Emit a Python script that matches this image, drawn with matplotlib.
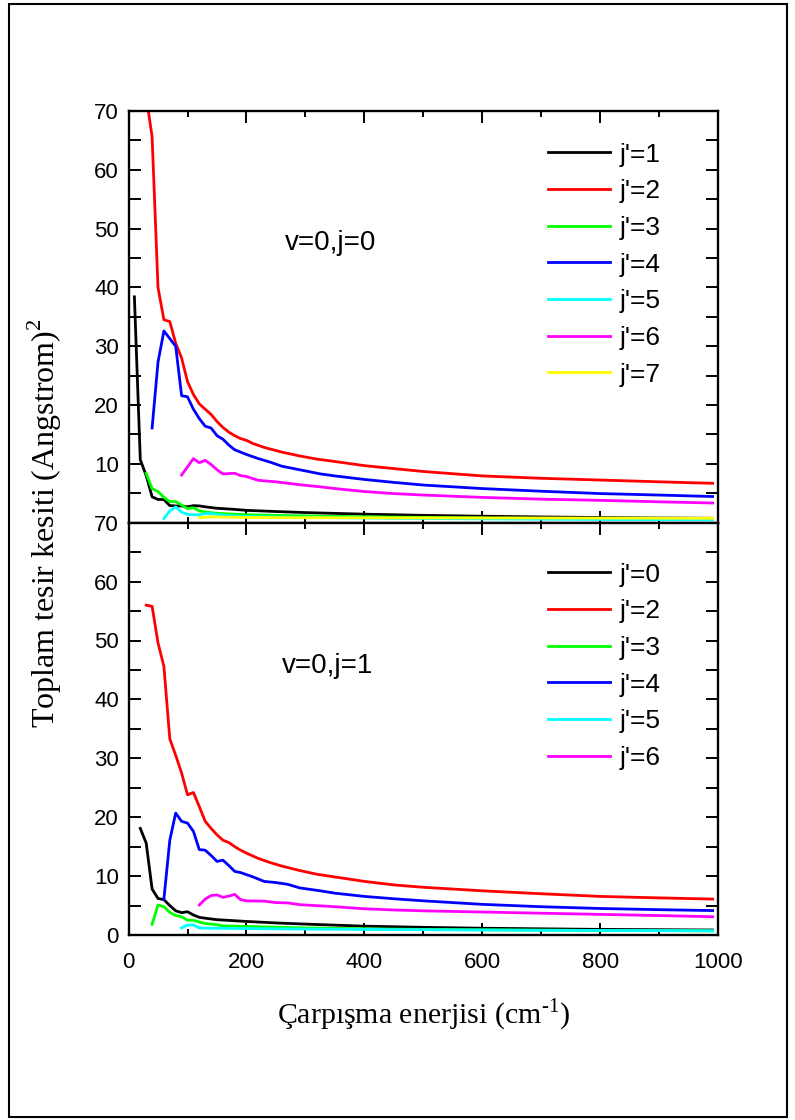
import matplotlib
matplotlib.use("Agg")
import matplotlib.pyplot as plt
from matplotlib.patches import Rectangle
from matplotlib.ticker import MultipleLocator

# v=0, j=0 panel
x_a1 = [10, 20, 30, 40, 50, 60, 70, 80, 90, 100, 110, 120, 130, 150, 175, 200, 250, 300, 400, 500, 600, 700, 800, 900, 990]
y_a1 = [38.4, 10.7, 8.0, 4.4, 3.95, 3.95, 2.9, 2.85, 2.85, 2.7, 2.9, 2.85, 2.7, 2.45, 2.3, 2.1, 1.9, 1.72, 1.45, 1.25, 1.1, 0.98, 0.88, 0.8, 0.75]

x_a2 = [30, 40, 50, 60, 70, 80, 90, 100, 110, 120, 130, 140, 150, 160, 170, 180, 190, 200, 210, 230, 260, 290, 320, 350, 400, 450, 500, 600, 700, 800, 900, 990]
y_a2 = [72.5, 65.6, 40.0, 34.5, 34.2, 30.5, 28.0, 24.0, 21.8, 20.2, 19.3, 18.4, 17.2, 16.2, 15.4, 14.8, 14.3, 14.0, 13.5, 12.8, 12.0, 11.35, 10.8, 10.4, 9.7, 9.2, 8.7, 7.95, 7.55, 7.25, 6.95, 6.7]

x_a3 = [30, 40, 50, 60, 70, 80, 90, 100, 110, 120, 130, 140, 150, 200, 300, 400, 500, 600, 700, 800, 900, 990]
y_a3 = [8.4, 5.8, 5.3, 4.3, 3.6, 3.6, 3.0, 2.4, 2.55, 2.0, 1.85, 1.7, 1.6, 1.35, 1.15, 1.0, 0.9, 0.8, 0.72, 0.65, 0.6, 0.55]

x_a4 = [40, 50, 60, 70, 80, 90, 100, 110, 120, 130, 140, 150, 160, 170, 180, 190, 200, 220, 240, 260, 280, 300, 325, 350, 400, 450, 500, 600, 700, 800, 900, 990]
y_a4 = [16.1, 27.3, 32.6, 31.3, 30.0, 21.6, 21.4, 19.3, 17.7, 16.4, 16.1, 14.8, 14.2, 13.2, 12.4, 12.0, 11.6, 10.9, 10.3, 9.6, 9.2, 8.8, 8.3, 7.95, 7.35, 6.85, 6.4, 5.8, 5.35, 4.95, 4.7, 4.45]

x_a5 = [60, 70, 80, 90, 100, 110, 120, 130, 140, 160, 200, 300, 400, 500, 600, 800, 990]
y_a5 = [0.7, 2.0, 2.7, 1.8, 1.4, 1.35, 1.35, 1.55, 1.55, 1.25, 1.05, 0.9, 0.8, 0.72, 0.65, 0.55, 0.5]

x_a6 = [90, 100, 110, 120, 130, 140, 150, 160, 170, 180, 190, 200, 220, 250, 270, 300, 325, 350, 400, 450, 500, 600, 700, 800, 900, 990]
y_a6 = [8.1, 9.5, 10.9, 10.2, 10.6, 9.9, 9.0, 8.3, 8.35, 8.4, 8.0, 7.85, 7.2, 6.95, 6.7, 6.35, 6.1, 5.8, 5.3, 4.95, 4.7, 4.3, 4.0, 3.8, 3.55, 3.35]

x_a7 = [120, 140, 160, 200, 300, 500, 700, 990]
y_a7 = [0.85, 1.0, 0.95, 0.9, 0.85, 0.82, 0.8, 0.75]

# v=0, j=1 panel
x_b0 = [20, 30, 40, 50, 60, 70, 80, 90, 100, 110, 120, 130, 150, 200, 250, 300, 400, 500, 600, 700, 800, 900, 990]
y_b0 = [18.1, 15.6, 7.8, 6.2, 6.0, 5.0, 4.1, 3.8, 3.95, 3.4, 3.0, 2.85, 2.6, 2.3, 2.05, 1.85, 1.5, 1.3, 1.15, 1.05, 0.95, 0.9, 0.85]

x_b2 = [30, 40, 50, 60, 70, 80, 90, 100, 110, 120, 130, 140, 150, 160, 170, 180, 190, 200, 220, 240, 260, 290, 320, 350, 400, 450, 500, 600, 700, 800, 900, 990]
y_b2 = [56.0, 55.8, 49.6, 45.6, 33.3, 30.5, 27.5, 23.8, 24.2, 21.8, 19.3, 18.1, 17.0, 16.1, 15.7, 15.0, 14.4, 13.9, 13.0, 12.3, 11.7, 10.95, 10.3, 9.85, 9.1, 8.5, 8.1, 7.5, 7.0, 6.55, 6.3, 6.1]

x_b3 = [40, 50, 60, 70, 80, 90, 100, 110, 120, 130, 150, 160, 200, 300, 400, 500, 600, 800, 990]
y_b3 = [1.8, 5.1, 4.8, 3.85, 3.3, 3.1, 2.5, 2.5, 2.2, 1.95, 1.75, 1.55, 1.45, 1.2, 1.05, 0.95, 0.88, 0.78, 0.7]

x_b4 = [60, 70, 80, 90, 100, 110, 120, 130, 140, 150, 160, 170, 180, 190, 210, 230, 250, 270, 290, 325, 350, 400, 450, 500, 600, 700, 800, 900, 990]
y_b4 = [6.1, 16.1, 20.7, 19.3, 19.0, 17.6, 14.5, 14.4, 13.5, 12.5, 12.7, 11.8, 10.8, 10.6, 9.9, 9.1, 8.9, 8.6, 8.0, 7.5, 7.1, 6.55, 6.15, 5.8, 5.2, 4.8, 4.5, 4.3, 4.15]

x_b5 = [90, 100, 110, 120, 140, 200, 300, 500, 700, 990]
y_b5 = [1.2, 1.7, 1.7, 1.2, 1.15, 1.1, 1.0, 0.9, 0.8, 0.72]

x_b6 = [120, 130, 140, 150, 160, 170, 180, 190, 200, 230, 250, 270, 290, 325, 350, 400, 450, 500, 600, 700, 800, 900, 990]
y_b6 = [5.1, 6.1, 6.7, 6.8, 6.4, 6.6, 6.9, 6.0, 5.8, 5.75, 5.5, 5.45, 5.15, 4.95, 4.8, 4.45, 4.25, 4.1, 3.9, 3.7, 3.5, 3.3, 3.1]

top_series = [(x_a1, y_a1, "black", "j'=1"), (x_a2, y_a2, "red", "j'=2"),
              (x_a3, y_a3, "#00ff00", "j'=3"), (x_a4, y_a4, "blue", "j'=4"),
              (x_a5, y_a5, "cyan", "j'=5"), (x_a6, y_a6, "magenta", "j'=6"),
              (x_a7, y_a7, "yellow", "j'=7")]
bot_series = [(x_b0, y_b0, "black", "j'=0"), (x_b2, y_b2, "red", "j'=2"),
              (x_b3, y_b3, "#00ff00", "j'=3"), (x_b4, y_b4, "blue", "j'=4"),
              (x_b5, y_b5, "cyan", "j'=5"), (x_b6, y_b6, "magenta", "j'=6")]

sans = "Liberation Sans"
serif = "Liberation Serif"

fig = plt.figure(figsize=(7.95, 11.2), dpi=100)
W, H = 795, 1120
ax_top = fig.add_axes([128.5 / W, (H - 522.7) / H, 590 / W, 411.7 / H])
ax_bot = fig.add_axes([128.5 / W, (H - 935) / H, 590 / W, 412.3 / H])


def style(ax):
    ax.set_xlim(0, 1000)
    ax.set_ylim(0, 70)
    ax.xaxis.set_major_locator(MultipleLocator(200))
    ax.xaxis.set_minor_locator(MultipleLocator(100))
    ax.yaxis.set_major_locator(MultipleLocator(10))
    ax.yaxis.set_minor_locator(MultipleLocator(5))
    ax.tick_params(which="both", direction="in", top=True, right=True, width=1.4)
    ax.tick_params(which="major", length=8.5)
    ax.tick_params(which="minor", length=4.5)
    ax.tick_params(axis="y", which="both", length=8.5)
    ax.tick_params(axis="y", pad=7)
    ax.tick_params(axis="x", pad=12)
    for s in ax.spines.values():
        s.set_linewidth(1.7)
    for lab in ax.get_xticklabels() + ax.get_yticklabels():
        lab.set_fontfamily(sans)
        lab.set_fontsize(16)


for ax, series in [(ax_top, top_series), (ax_bot, bot_series)]:
    for xs, ys, c, lab in series:
        ax.plot(xs, ys, color=c, lw=2.0, label=lab)
    style(ax)
    ax.legend(loc="upper left", bbox_to_anchor=(0.711, 0.923 if ax is ax_top else 0.903),
              frameon=False, borderpad=0, borderaxespad=0, handlelength=2.35,
              handletextpad=0.38, labelspacing=0.48,
              prop={"family": sans, "size": 19})

ax_top.tick_params(axis="x", labelbottom=False)
ax_top.set_yticks(range(0, 71, 10))
ax_top.set_yticklabels([""] + [str(v) for v in range(10, 71, 10)], fontfamily=sans, fontsize=16)

ax_top.text(343, 47.5, "v=0,j=0", fontfamily=sans, fontsize=20, ha="center", va="center")
ax_bot.text(338, 45.7, "v=0,j=1", fontfamily=sans, fontsize=20, ha="center", va="center")

fig.text(423.5 / W, 1 - 1015 / H, "Çarpışma enerjisi (cm$^{\\mathregular{\u20101}}$)",
         fontfamily=serif, fontsize=21.5, ha="center", va="center")
fig.text(45 / W, 1 - 523 / H, "Toplam tesir kesiti (Angstrom)$^{\\mathregular{2}}$",
         fontfamily=serif, fontsize=23, ha="center", va="center", rotation=90)

fig.add_artist(Rectangle((9 / W, 3 / H), 778 / W, 1113 / H, transform=fig.transFigure,
                         fill=False, lw=1.5, edgecolor="black"))

fig.savefig("out.png", dpi=100)
